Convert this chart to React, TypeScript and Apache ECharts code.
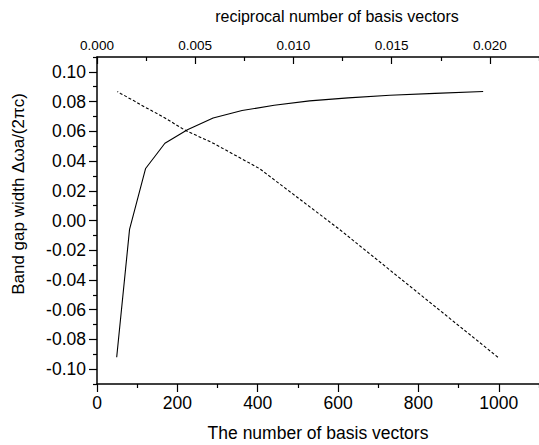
import React, { useEffect, useRef } from "react";
import * as echarts from "echarts";

// Number of basis vectors (odd squares) and band gap width
const basisVectors = [49, 81, 121, 169, 225, 289, 361, 441, 529, 625, 729, 841, 961];
const gapWidth = [-0.092, -0.006, 0.035, 0.052, 0.061, 0.069, 0.074, 0.0775, 0.0805, 0.0825, 0.0843, 0.0855, 0.0868];

// Tick values
const yMajor = [-0.1, -0.08, -0.06, -0.04, -0.02, 0, 0.02, 0.04, 0.06, 0.08, 0.1];
const yMinor = [-0.11, -0.09, -0.07, -0.05, -0.03, -0.01, 0.01, 0.03, 0.05, 0.07, 0.09, 0.11];
const xMajor = [0, 200, 400, 600, 800, 1000];
const xMinor = [100, 300, 500, 700, 900, 1100];
const topMajor = [0, 0.005, 0.01, 0.015, 0.02];
const topMinor = [0.0025, 0.0075, 0.0125, 0.0175, 0.0225];

const yTitle = "Band gap width \u0394\u03c9a/(2\u03c0c)";
const xTitle = "The number of basis vectors";
const topTitle = "reciprocal number of basis vectors";

const FONT = "'Liberation Sans', Arial, sans-serif";
const BLACK = "#000";

export default function App() {
  const ref = useRef<HTMLDivElement>(null);
  useEffect(() => {
    if (!ref.current) return;
    const chart = echarts.init(ref.current, null, { renderer: "svg" });
    const lineStyle = { color: BLACK, width: 1.2 };
    const solidData = basisVectors.map((n, i) => [n, gapWidth[i]]);
    const dashedData = basisVectors.map((n, i) => [1 / n, gapWidth[i]]);
    chart.setOption({
      animation: false,
      backgroundColor: "#fff",
      textStyle: { fontFamily: FONT },
      grid: { left: 97, right: 0, top: 57, bottom: 61, containLabel: false },
      graphic: [
        {
          type: "text", x: 18, y: 194, rotation: Math.PI / 2,
          style: { text: yTitle, fill: BLACK, font: `17px ${FONT}`, align: "center", verticalAlign: "middle" },
        },
        {
          type: "text", x: 318, y: 433,
          style: { text: xTitle, fill: BLACK, font: `17.5px ${FONT}`, align: "center", verticalAlign: "middle" },
        },
        {
          type: "text", x: 337, y: 16,
          style: { text: topTitle, fill: BLACK, font: `16px ${FONT}`, align: "center", verticalAlign: "middle" },
        },
      ],
      xAxis: [
        {
          type: "value", position: "bottom", min: 0, max: 1100,
          axisLine: { show: true, onZero: false, lineStyle: { color: BLACK, width: 1.5 } },
          axisTick: { show: true, customValues: xMajor, length: 8, lineStyle },
          axisLabel: { customValues: xMajor, fontSize: 17.5, color: BLACK, fontFamily: FONT, margin: 10, formatter: (v: number) => String(v) },
          splitLine: { show: false },
        },
        {
          type: "value", position: "top", min: 0, max: 0.0225,
          axisLine: { show: true, onZero: false, lineStyle: { color: BLACK, width: 1.5 } },
          axisTick: { show: true, inside: true, customValues: topMajor, length: 7, lineStyle },
          axisLabel: { customValues: topMajor, fontSize: 13.5, color: BLACK, fontFamily: FONT, margin: 5, formatter: (v: number) => v.toFixed(3) },
          splitLine: { show: false },
        },
        {
          type: "value", position: "bottom", min: 0, max: 1100,
          axisLine: { show: false, onZero: false },
          axisTick: { show: true, customValues: xMinor, length: 4, lineStyle },
          axisLabel: { show: false },
          splitLine: { show: false },
        },
        {
          type: "value", position: "top", min: 0, max: 0.0225,
          axisLine: { show: false, onZero: false },
          axisTick: { show: true, inside: true, customValues: topMinor, length: 4, lineStyle },
          axisLabel: { show: false },
          splitLine: { show: false },
        },
      ],
      yAxis: [
        {
          type: "value", position: "left", min: -0.11, max: 0.11,
          axisLine: { show: true, onZero: false, lineStyle: { color: BLACK, width: 1.5 } },
          axisTick: { show: true, customValues: yMajor, length: 8, lineStyle },
          axisLabel: { customValues: yMajor, fontSize: 17.5, color: BLACK, fontFamily: FONT, margin: 11, formatter: (v: number) => v.toFixed(2) },
          splitLine: { show: false },
        },
        {
          type: "value", position: "left", min: -0.11, max: 0.11,
          axisLine: { show: false, onZero: false },
          axisTick: { show: true, customValues: yMinor, length: 4, lineStyle },
          axisLabel: { show: false },
          splitLine: { show: false },
        },
      ],
      series: [
        {
          type: "line", xAxisIndex: 0, yAxisIndex: 0, data: solidData,
          symbol: "none", lineStyle: { color: BLACK, width: 1.1 },
        },
        {
          type: "line", xAxisIndex: 1, yAxisIndex: 0, data: dashedData,
          symbol: "none", lineStyle: { color: BLACK, width: 1.1, type: [3, 2] },
        },
      ],
    });
    return () => chart.dispose();
  }, []);
  return (
    <div
      ref={ref}
      style={{ position: "absolute", left: 0, top: 0, width: 539, height: 445 }}
    />
  );
}
